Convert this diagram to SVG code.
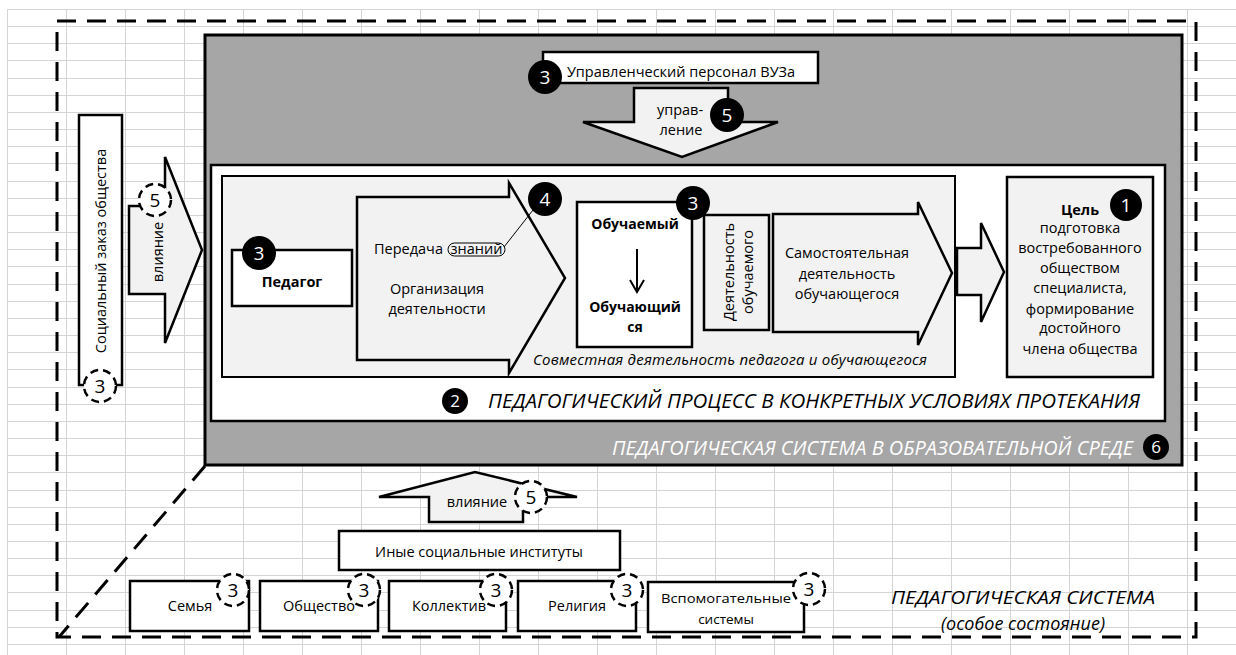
<svg xmlns="http://www.w3.org/2000/svg" width="1236" height="655" viewBox="0 0 1236 655">
<defs>
<style>
.t{font-family:"Open Sans","Noto Sans","DejaVu Sans",sans-serif;font-size:14.5px;fill:#000}
.c{text-anchor:middle}
.b{font-weight:bold}
.i{font-style:italic}
.big{font-size:20px}
.bd{font-family:"Open Sans","Noto Sans",sans-serif;font-size:19px;fill:#fff;text-anchor:middle}
.bds{font-size:17px}
.bdd{font-family:"Open Sans","Noto Sans",sans-serif;font-size:19px;fill:#000;text-anchor:middle}
.box{fill:#fff;stroke:#000;stroke-width:2.5}
.lbox{fill:#f2f2f2;stroke:#000;stroke-width:2.5}
.arr{fill:#f2f2f2;stroke:#000;stroke-width:2.5;stroke-linejoin:miter}
.dash{fill:none;stroke:#000;stroke-width:3;stroke-dasharray:19 11}
.dc{fill:#fff;stroke:#000;stroke-width:2.5;stroke-dasharray:8 5}
.bc{fill:#000}
.grid{fill:none;stroke:#d4d4d4;stroke-width:1}
</style>
</defs>
<rect width="1236" height="655" fill="#fff"/>
<path class="grid" d="M7.5,9V655M66.5,9V655M125.5,9V655M184.5,9V655M243.5,9V655M302.5,9V655M361.5,9V655M420.5,9V655M479.5,9V655M538.5,9V655M597.5,9V655M656.5,9V655M715.5,9V655M774.5,9V655M833.5,9V655M892.5,9V655M951.5,9V655M1010.5,9V655M1069.5,9V655M1128.5,9V655M1187.5,9V655
M7,9.5H1236M7,26.5H1236M7,43.5H1236M7,60.5H1236M7,78.5H1236M7,95.5H1236M7,112.5H1236M7,129.5H1236M7,146.5H1236M7,163.5H1236M7,181.5H1236M7,198.5H1236M7,215.5H1236M7,232.5H1236M7,249.5H1236M7,266.5H1236M7,284.5H1236M7,301.5H1236M7,318.5H1236M7,335.5H1236M7,352.5H1236M7,369.5H1236M7,387.5H1236M7,404.5H1236M7,421.5H1236M7,438.5H1236M7,455.5H1236M7,472.5H1236M7,490.5H1236M7,507.5H1236M7,524.5H1236M7,541.5H1236M7,558.5H1236M7,575.5H1236M7,592.5H1236M7,610.5H1236M7,627.5H1236M7,644.5H1236"/>

<g id="outer-system">
<path class="dash" d="M57,21H1196V637H57Z"/>
<path class="dash" d="M205,466L59,637"/>
<text class="t i c" x="1023" y="604" style="font-size:19px" textLength="264" lengthAdjust="spacingAndGlyphs">ПЕДАГОГИЧЕСКАЯ СИСТЕМА</text>
<text class="t i c" x="1023" y="630" style="font-size:18px">(особое  состояние)</text>
</g>

<g id="ped-system">
<rect x="205" y="35" width="977" height="430" fill="#a6a6a6" stroke="#000" stroke-width="3"/>
<text class="t i big" x="612" y="455" style="fill:#fff" textLength="521" lengthAdjust="spacingAndGlyphs">ПЕДАГОГИЧЕСКАЯ СИСТЕМА  В ОБРАЗОВАТЕЛЬНОЙ СРЕДЕ</text>
<circle class="bc" cx="1156" cy="447" r="13"/>
<text class="bd bds" x="1156" y="453">6</text>
</g>

<g id="ped-process">
<rect x="211" y="165" width="954" height="256" fill="#fff" stroke="#000" stroke-width="2.5"/>
<text class="t i big" x="488" y="408" textLength="652" lengthAdjust="spacingAndGlyphs">ПЕДАГОГИЧЕСКИЙ ПРОЦЕСС В КОНКРЕТНЫХ УСЛОВИЯХ ПРОТЕКАНИЯ</text>
<circle class="bc" cx="455" cy="401" r="13"/>
<text class="bd bds" x="455" y="407">2</text>
</g>

<g id="joint-activity">
<rect x="222" y="176" width="733" height="201" fill="#f2f2f2" stroke="#000" stroke-width="2"/>
<text class="t i" x="533" y="365" style="font-size:15px" textLength="394" lengthAdjust="spacing">Совместная деятельность педагога и обучающегося</text>
</g>

<g id="goal">
<rect class="lbox" x="1007" y="177" width="146" height="200"/>
<text class="t c b" x="1080" y="215">Цель</text>
<text class="t c" x="1080" y="233">подготовка</text>
<text class="t c" x="1080" y="253">востребованного</text>
<text class="t c" x="1080" y="273">обществом</text>
<text class="t c" x="1080" y="293">специалиста,</text>
<text class="t c" x="1080" y="314">формирование</text>
<text class="t c" x="1080" y="333">достойного</text>
<text class="t c" x="1080" y="354">члена общества</text>
<circle class="bc" cx="1126" cy="205" r="16"/>
<text class="bd" x="1126" y="212">1</text>
</g>

<g id="management">
<rect class="box" x="543" y="52" width="275" height="31"/>
<text class="t c" x="681" y="77">Управленческий  персонал ВУЗа</text>
</g>

<g id="social-order">
<rect class="box" x="79" y="115" width="43" height="270"/>
<text class="t c" transform="translate(101,251) rotate(-90)" x="0" y="5">Социальный  заказ общества</text>
</g>

<g id="teacher">
<rect class="box" x="232" y="250" width="120" height="56"/>
<text class="t c b" x="292" y="287">Педагог</text>
</g>

<g id="learner">
<rect class="box" x="577" y="202" width="115" height="145"/>
<text class="t c b" x="635" y="229" style="font-size:14px">Обучаемый</text>
<text class="t c b" x="635" y="312" style="font-size:14px">Обучающий</text>
<text class="t c b" x="635" y="332" style="font-size:14px">ся</text>
</g>

<g id="learner-activity">
<rect class="lbox" x="704" y="215" width="65" height="115"/>
<text class="t c" transform="translate(729,272) rotate(-90)" x="0" y="5">Деятельность</text>
<text class="t c" transform="translate(748,272) rotate(-90)" x="0" y="5">обучаемого</text>
</g>

<g id="other-institutions">
<rect class="box" x="339" y="531" width="281" height="39"/>
<text class="t c" x="479" y="557">Иные  социальные  институты</text>
</g>

<g id="family">
<rect class="box" x="130" y="581" width="119" height="50"/>
<text class="t c" x="190" y="611">Семья</text>
</g>
<g id="society">
<rect class="box" x="260" y="581" width="118" height="50"/>
<text class="t c" x="319" y="611">Общество</text>
</g>
<g id="collective">
<rect class="box" x="389" y="581" width="117" height="50"/>
<text class="t c" x="449" y="611">Коллектив</text>
</g>
<g id="religion">
<rect class="box" x="518" y="581" width="118" height="50"/>
<text class="t c" x="577" y="611">Религия</text>
</g>
<g id="aux-systems">
<rect class="box" x="648" y="582" width="156" height="50"/>
<text class="t c" x="726" y="603" style="font-size:13.5px" textLength="130" lengthAdjust="spacingAndGlyphs">Вспомогательные</text>
<text class="t c" x="726" y="624" style="font-size:13.5px">системы</text>
</g>

<g id="connectors">
<g id="arrow-management">
<path class="arr" d="M634,88H728V122H778L682,157L583,122H634Z"/>
<text class="t c" x="680" y="115">управ-</text>
<text class="t c" x="681" y="135">ление</text>
</g>
<g id="arrow-influence-left">
<path class="arr" d="M129,206H165V157L202,250L165,343V294H129Z"/>
<text class="t c" transform="translate(158,252) rotate(-90)" x="0" y="5">влияние</text>
</g>
<g id="arrow-influence-bottom">
<path class="arr" d="M429,522V497H379L475,472L577,497H523V522Z"/>
<text class="t c" x="477" y="507">влияние</text>
</g>
<g id="arrow-teaching">
<path class="arr" d="M357,197H509V183L565,278L509,373V360H357Z"/>
<text class="t" x="374" y="254">Передача</text>
<rect x="448" y="243" width="57" height="13" rx="6.5" fill="none" stroke="#000" stroke-width="1"/>
<text class="t c" x="476.5" y="254">знаний</text>
<text class="t c" x="437" y="294">Организация</text>
<text class="t c" x="437" y="314">деятельности</text>
</g>
<g id="arrow-self-activity">
<path class="arr" d="M773,214H918V202L952,273L918,345V332H773Z"/>
<text class="t c" x="847" y="258">Самостоятельная</text>
<text class="t c" x="847" y="279">деятельность</text>
<text class="t c" x="847" y="299">обучающегося</text>
</g>
<path id="arrow-to-goal" class="arr" d="M957,248H981V223L1004,272L981,322V295H957Z"/>
<path id="learner-transition" d="M637,249V291M630,280L637,292L644,280" fill="none" stroke="#000" stroke-width="2"/>
<line id="knowledge-link" x1="504" y1="247" x2="533" y2="210" stroke="#000" stroke-width="1"/>
</g>

<g id="badges">
<circle class="bc" cx="545" cy="77" r="17"/><text class="bd" x="545" y="84">3</text>
<circle class="bc" cx="727" cy="115" r="17"/><text class="bd" x="727" y="122">5</text>
<circle class="bc" cx="259" cy="253" r="17"/><text class="bd" x="259" y="260">3</text>
<circle class="bc" cx="545" cy="199" r="17"/><text class="bd" x="545" y="206">4</text>
<circle class="bc" cx="693" cy="203" r="17"/><text class="bd" x="693" y="210">3</text>
<circle class="dc" cx="155" cy="200" r="16"/><text class="bdd" x="155" y="207">5</text>
<circle class="dc" cx="100" cy="386" r="16"/><text class="bdd" x="100" y="393">3</text>
<circle class="dc" cx="531" cy="497" r="16"/><text class="bdd" x="531" y="504">5</text>
<circle class="dc" cx="233" cy="590" r="16"/><text class="bdd" x="233" y="597">3</text>
<circle class="dc" cx="364" cy="590" r="16"/><text class="bdd" x="364" y="597">3</text>
<circle class="dc" cx="496" cy="590" r="16"/><text class="bdd" x="496" y="597">3</text>
<circle class="dc" cx="627" cy="590" r="16"/><text class="bdd" x="627" y="597">3</text>
<circle class="dc" cx="809" cy="589" r="16"/><text class="bdd" x="809" y="596">3</text>
</g>
</svg>
